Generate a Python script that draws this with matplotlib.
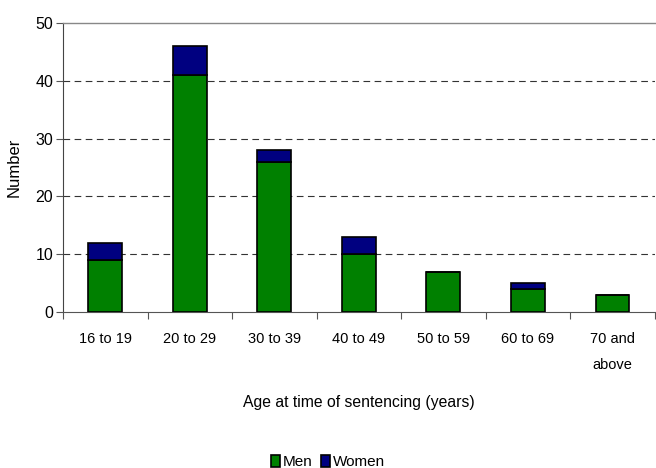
import numpy as np
import matplotlib.pyplot as plt

plt.rcParams['font.family'] = ['Liberation Sans', 'DejaVu Sans']

# --- data ---
ages = ['16 to 19', '20 to 29', '30 to 39', '40 to 49', '50 to 59', '60 to 69', '70 and\nabove']
men = [9, 41, 26, 10, 7, 4, 3]
women = [3, 5, 2, 3, 0, 1, 0]

fig = plt.figure(figsize=(6.56, 4.68), dpi=100)
ax = fig.add_axes([0.096, 0.333, 0.902, 0.618])

x = np.arange(len(ages))
ax.bar(x, men, width=0.4, color='#008000', edgecolor='black', linewidth=1.2, label='Men', zorder=3)
ax.bar(x, women, width=0.4, bottom=men, color='#000080', edgecolor='black', linewidth=1.2,
       label='Women', zorder=3)

ax.set_xlim(-0.5, len(ages) - 0.5)
ax.set_ylim(0, 50)
ax.set_yticks([0, 10, 20, 30, 40, 50])
ax.set_xticks(np.arange(-0.5, len(ages), 1.0))
ax.set_xticklabels([])
ax.set_xticks(x, minor=True)
ax.set_xticklabels(ages, minor=True, fontsize=10.5, linespacing=2.1, va='top')
ax.tick_params(axis='x', which='minor', length=0, pad=14)
ax.tick_params(axis='x', which='major', length=5, color='#555555')
ax.tick_params(axis='y', length=5, color='#555555', labelsize=11.5, pad=2)

for v in [10, 20, 30, 40]:
    ax.axhline(v, color='#333333', linewidth=0.8, linestyle=(0, (6, 4)), zorder=1)

ax.spines['right'].set_visible(False)
ax.spines['top'].set_color('#888888')
ax.spines['top'].set_linewidth(1.0)
ax.spines['left'].set_color('#444444')
ax.spines['bottom'].set_color('#555555')

ax.set_ylabel('Number', fontsize=12, labelpad=10)
ax.set_xlabel('Age at time of sentencing (years)', fontsize=11.3, labelpad=17)

fig.legend(loc='lower center', bbox_to_anchor=(0.5, -0.032), ncol=2, frameon=False, fontsize=11,
           handlelength=0.6, handleheight=0.8, handletextpad=0.2, columnspacing=0.5)

fig.savefig('out.png', dpi=100)
